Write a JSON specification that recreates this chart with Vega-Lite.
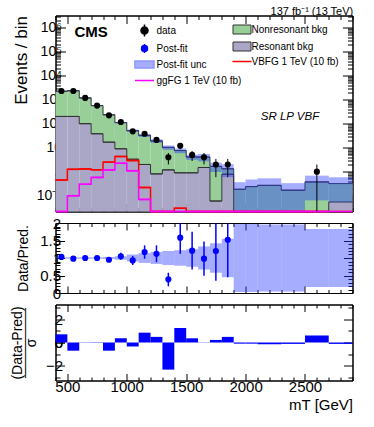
{
  "$schema": "https://vega.github.io/schema/vega-lite/v6.json",
  "background": "white",
  "padding": {"left": 9.5, "top": 5.5, "right": 18, "bottom": 6},
  "config": {
    "font": "Liberation Sans",
    "view": {"stroke": "black", "strokeWidth": 1},
    "axis": {"grid": false, "domainColor": "black", "tickColor": "black", "labelColor": "black", "titleColor": "black", "titleFontWeight": "normal", "labelFontSize": 15, "titleFontSize": 15, "labelOverlap": false, "labelFlush": false, "labelBound": false, "tickWidth": 1, "domainWidth": 1},
    "title": {"fontWeight": "normal", "color": "black"}
  },
  "datasets": {
    "bins": [
      {"lo":400,"hi":500,"m":450,"res":200,"tot":2243,"vbf":0.45,"ggf":0.005,"ulo":2198,"uhi":2288,"d":2300,"dlo":2252,"dhi":2348,"r":1.03,"rlo":1.01,"rhi":1.05,"rblo":0.98,"rbhi":1.02,"pull":0.7},
      {"lo":500,"hi":600,"m":550,"res":200,"tot":2357,"vbf":1.25,"ggf":0.1,"ulo":2310,"uhi":2404,"d":2300,"dlo":2252,"dhi":2348,"r":0.98,"rlo":0.96,"rhi":1.0,"rblo":0.98,"rbhi":1.02,"pull":-0.7},
      {"lo":600,"hi":700,"m":650,"res":100,"tot":1180,"vbf":1.3,"ggf":0.3,"ulo":1156,"uhi":1204,"d":1180,"dlo":1146,"dhi":1214,"r":1.0,"rlo":0.97,"rhi":1.03,"rblo":0.98,"rbhi":1.02,"pull":-0.02},
      {"lo":700,"hi":800,"m":750,"res":38,"tot":566,"vbf":1.2,"ggf":0.58,"ulo":555,"uhi":577,"d":566,"dlo":542,"dhi":590,"r":1.0,"rlo":0.96,"rhi":1.04,"rblo":0.98,"rbhi":1.02,"pull":0.03},
      {"lo":800,"hi":900,"m":850,"res":17,"tot":234,"vbf":2.5,"ggf":1.19,"ulo":229,"uhi":239,"d":222,"dlo":207,"dhi":237,"r":0.95,"rlo":0.89,"rhi":1.01,"rblo":0.97,"rbhi":1.03,"pull":-0.7},
      {"lo":900,"hi":1000,"m":950,"res":9,"tot":111,"vbf":4.3,"ggf":2.24,"ulo":105,"uhi":117,"d":117,"dlo":106,"dhi":128,"r":1.05,"rlo":0.95,"rhi":1.15,"rblo":0.95,"rbhi":1.05,"pull":0.36},
      {"lo":1000,"hi":1100,"m":1050,"res":3.3,"tot":51.2,"vbf":2.9,"ggf":1.1,"ulo":46.1,"uhi":56.3,"d":48,"dlo":41,"dhi":55,"r":0.93,"rlo":0.8,"rhi":1.06,"rblo":0.9,"rbhi":1.1,"pull":-0.34},
      {"lo":1100,"hi":1200,"m":1150,"res":2.0,"tot":32.5,"vbf":0.22,"ggf":0.07,"ulo":28.0,"uhi":37.1,"d":38,"dlo":32,"dhi":44,"r":1.17,"rlo":0.98,"rhi":1.36,"rblo":0.86,"rbhi":1.14,"pull":0.84},
      {"lo":1200,"hi":1300,"m":1250,"res":0.81,"tot":19.1,"vbf":0.005,"ggf":0.005,"ulo":15.9,"uhi":22.3,"d":21,"dlo":16.4,"dhi":25.6,"r":1.12,"rlo":0.88,"rhi":1.36,"rblo":0.83,"rbhi":1.17,"pull":0.48},
      {"lo":1300,"hi":1400,"m":1350,"res":1.19,"tot":10.3,"vbf":0.005,"ggf":0.005,"ulo":8.2,"uhi":12.4,"d":4,"dlo":2,"dhi":6,"r":0.39,"rlo":0.19,"rhi":0.58,"rblo":0.8,"rbhi":1.2,"pull":-2.32},
      {"lo":1400,"hi":1500,"m":1450,"res":0.9,"tot":7.6,"vbf":0.03,"ggf":0.005,"ulo":5.9,"uhi":9.3,"d":12,"dlo":8.5,"dhi":15.5,"r":1.58,"rlo":1.12,"rhi":2.04,"rblo":0.78,"rbhi":1.22,"pull":1.23},
      {"lo":1500,"hi":1600,"m":1550,"res":0.9,"tot":4.1,"vbf":0.005,"ggf":0.005,"ulo":3.1,"uhi":5.1,"d":5,"dlo":2.8,"dhi":7.2,"r":1.21,"rlo":0.67,"rhi":1.75,"rblo":0.75,"rbhi":1.25,"pull":0.36},
      {"lo":1600,"hi":1700,"m":1650,"res":1.5,"tot":4.1,"vbf":0.005,"ggf":0.005,"ulo":2.7,"uhi":5.5,"d":4,"dlo":2,"dhi":6,"r":0.98,"rlo":0.49,"rhi":1.47,"rblo":0.67,"rbhi":1.33,"pull":-0.02},
      {"lo":1700,"hi":1800,"m":1750,"res":0.06,"tot":1.67,"vbf":0.005,"ggf":0.005,"ulo":0.97,"uhi":2.37,"d":2,"dlo":0.59,"dhi":3.41,"r":1.2,"rlo":0.35,"rhi":2.05,"rblo":0.58,"rbhi":1.42,"pull":0.22},
      {"lo":1800,"hi":1900,"m":1850,"res":0.78,"tot":1.32,"vbf":0.005,"ggf":0.005,"ulo":0.59,"uhi":2.05,"d":2,"dlo":0.59,"dhi":3.41,"r":1.52,"rlo":0.45,"rhi":2.59,"rblo":0.45,"rbhi":1.55,"pull":0.48},
      {"lo":1900,"hi":2000,"m":1950,"res":0.005,"tot":0.185,"vbf":0.005,"ggf":0.005,"ulo":0.0056,"uhi":0.365,"d":null,"dlo":null,"dhi":null,"r":null,"rlo":null,"rhi":null,"rblo":0.03,"rbhi":1.97,"pull":-0.1},
      {"lo":2000,"hi":2100,"m":2050,"res":0.005,"tot":0.24,"vbf":0.005,"ggf":0.005,"ulo":0.0072,"uhi":0.473,"d":null,"dlo":null,"dhi":null,"r":null,"rlo":null,"rhi":null,"rblo":0.03,"rbhi":1.97,"pull":-0.1},
      {"lo":2100,"hi":2300,"m":2200,"res":0.005,"tot":0.27,"vbf":0.005,"ggf":0.005,"ulo":0.011,"uhi":0.53,"d":null,"dlo":null,"dhi":null,"r":null,"rlo":null,"rhi":null,"rblo":0.04,"rbhi":1.96,"pull":-0.15},
      {"lo":2300,"hi":2500,"m":2400,"res":0.005,"tot":0.17,"vbf":0.005,"ggf":0.005,"ulo":0.0068,"uhi":0.333,"d":null,"dlo":null,"dhi":null,"r":null,"rlo":null,"rhi":null,"rblo":0.04,"rbhi":1.96,"pull":-0.12},
      {"lo":2500,"hi":2700,"m":2600,"res":0.005,"tot":0.375,"vbf":0.005,"ggf":0.005,"ulo":0.064,"uhi":0.686,"d":1,"dlo":0.001,"dhi":2,"r":null,"rlo":null,"rhi":null,"rblo":0.17,"rbhi":1.83,"pull":0.6},
      {"lo":2700,"hi":2900,"m":2800,"res":0.055,"tot":0.32,"vbf":0.005,"ggf":0.005,"ulo":0.054,"uhi":0.586,"d":null,"dlo":null,"dhi":null,"r":null,"rlo":null,"rhi":null,"rblo":0.17,"rbhi":1.83,"pull":-0.12}
    ]
  },
  "spacing": 11.5,
  "bounds": "flush",
  "resolve": {"scale": {"color": "independent", "fill": "independent"}},
  "vconcat": [
    {
      "width": 297, "height": 196,
      "title": {"text": "137 fb⁻¹ (13 TeV)", "anchor": "end", "fontSize": 11, "offset": -2},
      "data": {"name": "bins"},
      "resolve": {"axis": {"x": "independent", "y": "independent"}},
      "layer": [
        {"layer": [
          {"mark": {"type": "rect"},
           "encoding": {
             "x": {"field": "lo", "type": "quantitative", "scale": {"domain": [400, 2900], "nice": false, "zero": false},
                   "axis": {"values": [500,1000,1500,2000,2500], "labels": false, "title": null, "tickSize": -8}},
             "x2": {"field": "hi"},
             "y": {"field": "res", "type": "quantitative", "scale": {"type": "log", "domain": [0.022, 3200000], "nice": false, "clamp": true},
                   "axis": {"values": [0.1,1,10,100,1000,10000,100000,1000000],
                            "labelExpr": "datum.value == 1000000 ? '10⁶' : datum.value == 100000 ? '10⁵' : datum.value == 10000 ? '10⁴' : datum.value == 1000 ? '10³' : datum.value == 100 ? '10²' : datum.value == 10 ? '10' : datum.value == 1 ? '1' : datum.value == 0.1 ? '10⁻¹' : ''",
                            "tickSize": -10, "labelOverlap": false,
                            "title": "Events / bin", "titleAnchor": "end", "titleFontSize": 17, "labelFontSize": 14, "labelPadding": 4, "minExtent": 24, "maxExtent": 24, "titlePadding": 1}},
             "y2": {"datum": 0.001},
             "fill": {"datum": "Resonant bkg", "type": "nominal",
                      "scale": {"domain": ["Nonresonant bkg", "Resonant bkg", "VBFG 1 TeV (10 fb)"], "range": ["#98cf98", "#aaa6c6", "#ff0000"]},
                      "legend": {"title": null, "orient": "none", "legendX": 181.5, "legendY": 9, "direction": "vertical", "symbolSize": 225, "labelFontSize": 10, "labelColor": "black", "labelOffset": 4.5, "rowPadding": 3, "padding": 0,
                                 "encode": {"symbols": {"update": {
                                   "shape": {"signal": "datum.value == 'VBFG 1 TeV (10 fb)' ? 'M-1.27,0H1.27' : 'M-1.2,-0.6H1.2V0.6H-1.2Z'"},
                                   "stroke": {"signal": "datum.value == 'VBFG 1 TeV (10 fb)' ? '#ff0000' : '#333333'"},
                                   "strokeWidth": {"signal": "datum.value == 'VBFG 1 TeV (10 fb)' ? 1.5 : 1"},
                                   "opacity": {"value": 1}
                                 }}}}}
           }},
          {"mark": {"type": "rect"},
           "encoding": {"x": {"field": "lo", "type": "quantitative"}, "x2": {"field": "hi"}, "y": {"field": "tot", "type": "quantitative"}, "y2": {"field": "res"},
                        "fill": {"datum": "Nonresonant bkg", "type": "nominal"}}},
          {"mark": {"type": "line", "interpolate": "step-after", "color": "#333333", "strokeWidth": 1},
           "encoding": {"x": {"field": "lo", "type": "quantitative"}, "y": {"field": "res", "type": "quantitative"}}},
          {"mark": {"type": "rule", "color": "#333333", "strokeWidth": 1},
           "encoding": {"x": {"field": "lo", "type": "quantitative"}, "x2": {"field": "hi"}, "y": {"field": "res", "type": "quantitative"}}},
          {"mark": {"type": "line", "interpolate": "step-after", "color": "#333333", "strokeWidth": 1},
           "encoding": {"x": {"field": "lo", "type": "quantitative"}, "y": {"field": "tot", "type": "quantitative"}}},
          {"mark": {"type": "rule", "color": "#333333", "strokeWidth": 1},
           "encoding": {"x": {"field": "lo", "type": "quantitative"}, "x2": {"field": "hi"}, "y": {"field": "tot", "type": "quantitative"}}},
          {"mark": {"type": "rect", "fill": "#2b3cff", "opacity": 0.42},
           "encoding": {"x": {"field": "lo", "type": "quantitative"}, "x2": {"field": "hi"}, "y": {"field": "ulo", "type": "quantitative"}, "y2": {"field": "uhi"}}},
          {"mark": {"type": "line", "interpolate": "step-after", "color": "#ff0000", "strokeWidth": 1.5},
           "encoding": {"x": {"field": "lo", "type": "quantitative"}, "y": {"field": "vbf", "type": "quantitative"}}},
          {"mark": {"type": "rule", "color": "#ff0000", "strokeWidth": 1.5},
           "encoding": {"x": {"field": "lo", "type": "quantitative"}, "x2": {"field": "hi"}, "y": {"field": "vbf", "type": "quantitative"}}},
          {"mark": {"type": "line", "interpolate": "step-after", "color": "#ff00ff", "strokeWidth": 1.5},
           "encoding": {"x": {"field": "lo", "type": "quantitative"}, "y": {"field": "ggf", "type": "quantitative"}}},
          {"mark": {"type": "rule", "color": "#ff00ff", "strokeWidth": 1.5},
           "encoding": {"x": {"field": "lo", "type": "quantitative"}, "x2": {"field": "hi"}, "y": {"field": "ggf", "type": "quantitative"}}},
          {"mark": {"type": "rule", "strokeWidth": 1},
           "encoding": {"x": {"field": "m", "type": "quantitative"}, "y": {"field": "dlo", "type": "quantitative"}, "y2": {"field": "dhi"},
                        "color": {"datum": "data", "type": "nominal",
                                  "scale": {"domain": ["data", "Post-fit", "Post-fit unc", "ggFG 1 TeV (10 fb)"], "range": ["#000000", "#0000ff", "#8f98ff", "#ff00ff"]},
                                  "legend": {"title": null, "orient": "none", "legendX": 80.5, "legendY": 6.5, "direction": "vertical", "symbolSize": 225, "labelFontSize": 10, "labelColor": "black", "labelOffset": 3.5, "rowPadding": -1, "padding": 0,
                                             "encode": {"symbols": {"update": {
                                               "shape": {"signal": "datum.value == 'data' ? 'M0,-0.8V0.8M-0.47,0A0.47,0.47,0,1,0,0.47,0A0.47,0.47,0,1,0,-0.47,0Z' : datum.value == 'Post-fit' ? 'M0,-0.6V0.6M-0.4,0A0.4,0.4,0,1,0,0.4,0A0.4,0.4,0,1,0,-0.4,0Z' : datum.value == 'Post-fit unc' ? 'M-1.27,-0.47H1.27V0.47H-1.27Z' : 'M-1.27,0H1.27'"},
                                               "fill": {"signal": "datum.value == 'data' ? '#000000' : datum.value == 'Post-fit' ? '#0000ff' : datum.value == 'Post-fit unc' ? 'rgba(43,60,255,0.42)' : 'transparent'"},
                                               "strokeWidth": {"value": 1.5},
                                               "opacity": {"value": 1}
                                             }}}}}}},
          {"mark": {"type": "circle", "size": 38, "opacity": 1, "color": "black"},
           "encoding": {"x": {"field": "m", "type": "quantitative"}, "y": {"field": "d", "type": "quantitative"}}},
          {"data": {"values": [{}]},
           "mark": {"type": "text", "text": "CMS", "fontWeight": "bold", "fontSize": 15, "align": "left", "baseline": "alphabetic", "color": "black"},
           "encoding": {"x": {"datum": 560, "type": "quantitative"}, "y": {"datum": 420000, "type": "quantitative"}}},
          {"data": {"values": [{}]},
           "mark": {"type": "text", "text": "SR LP VBF", "fontStyle": "italic", "fontSize": 11.5, "align": "left", "baseline": "alphabetic", "color": "black"},
           "encoding": {"x": {"datum": 2128, "type": "quantitative"}, "y": {"datum": 147, "type": "quantitative"}}}
        ]},
        {"mark": {"type": "point", "opacity": 0},
         "encoding": {
           "x": {"field": "m", "type": "quantitative", "axis": {"orient": "top", "values": [500,1000,1500,2000,2500], "labels": false, "title": null, "tickSize": -8}},
           "y": {"field": "tot", "type": "quantitative", "axis": {"orient": "right", "values": [0.1,1,10,100,1000,10000,100000,1000000], "labels": false, "title": null, "tickSize": -10}}
         }},
        {"mark": {"type": "point", "opacity": 0},
         "encoding": {
           "x": {"field": "m", "type": "quantitative", "axis": {"orient": "bottom", "values": [400,600,700,800,900,1100,1200,1300,1400,1600,1700,1800,1900,2100,2200,2300,2400,2600,2700,2800,2900], "labels": false, "title": null, "tickSize": -4, "domain": false}},
           "y": {"field": "tot", "type": "quantitative", "axis": {"orient": "left", "values": [0.03,0.04,0.05,0.06,0.07,0.08,0.09,0.2,0.3,0.4,0.5,0.6,0.7,0.8,0.9,2,3,4,5,6,7,8,9,20,30,40,50,60,70,80,90,200,300,400,500,600,700,800,900,2000,3000,4000,5000,6000,7000,8000,9000,20000,30000,40000,50000,60000,70000,80000,90000,200000,300000,400000,500000,600000,700000,800000,900000,2000000,3000000], "labels": false, "title": null, "tickSize": -5, "domain": false}}
         }},
        {"mark": {"type": "point", "opacity": 0},
         "encoding": {
           "x": {"field": "m", "type": "quantitative", "axis": {"orient": "top", "values": [400,600,700,800,900,1100,1200,1300,1400,1600,1700,1800,1900,2100,2200,2300,2400,2600,2700,2800,2900], "labels": false, "title": null, "tickSize": -4, "domain": false}},
           "y": {"field": "tot", "type": "quantitative", "axis": {"orient": "right", "values": [0.03,0.04,0.05,0.06,0.07,0.08,0.09,0.2,0.3,0.4,0.5,0.6,0.7,0.8,0.9,2,3,4,5,6,7,8,9,20,30,40,50,60,70,80,90,200,300,400,500,600,700,800,900,2000,3000,4000,5000,6000,7000,8000,9000,20000,30000,40000,50000,60000,70000,80000,90000,200000,300000,400000,500000,600000,700000,800000,900000,2000000,3000000], "labels": false, "title": null, "tickSize": -5, "domain": false}}
         }}
      ]
    },
    {
      "width": 297, "height": 70,
      "data": {"name": "bins"},
      "resolve": {"axis": {"x": "independent", "y": "independent"}},
      "layer": [
        {"layer": [
          {"mark": {"type": "rect", "fill": "#2b3cff", "opacity": 0.42},
           "encoding": {
             "x": {"field": "lo", "type": "quantitative", "scale": {"domain": [400, 2900], "nice": false, "zero": false},
                   "axis": {"values": [500,1000,1500,2000,2500], "labels": false, "title": null, "tickSize": -7}},
             "x2": {"field": "hi"},
             "y": {"field": "rblo", "type": "quantitative", "scale": {"domain": [0, 2], "nice": false, "zero": false, "clamp": true},
                   "axis": {"values": [0,0.5,1,1.5,2], "labelExpr": "datum.value == 0.5 ? '0.5' : datum.value == 1.5 ? '1.5' : datum.value == 1 ? '1' : datum.value == 2 ? '2' : '0'", "tickSize": -9, "labelOverlap": false, "labelSeparation": 0,
                            "title": "Data/Pred.", "titleFontSize": 14, "labelFontSize": 15, "labelPadding": 4, "minExtent": 22, "maxExtent": 22, "titlePadding": 3.4}},
             "y2": {"field": "rbhi"}
           }},
          {"mark": {"type": "rule", "color": "#0000ff", "strokeWidth": 1.5},
           "encoding": {"x": {"field": "m", "type": "quantitative"}, "y": {"field": "rlo", "type": "quantitative"}, "y2": {"field": "rhi"}}},
          {"mark": {"type": "circle", "size": 38, "color": "#0000ff", "opacity": 1},
           "encoding": {"x": {"field": "m", "type": "quantitative"}, "y": {"field": "r", "type": "quantitative"}}}
        ]},
        {"mark": {"type": "point", "opacity": 0},
         "encoding": {
           "x": {"field": "m", "type": "quantitative", "axis": {"orient": "top", "values": [500,1000,1500,2000,2500], "labels": false, "title": null, "tickSize": -7}},
           "y": {"field": "r", "type": "quantitative", "axis": {"orient": "right", "values": [0,0.5,1,1.5,2], "labels": false, "title": null, "tickSize": -9}}
         }},
        {"mark": {"type": "point", "opacity": 0},
         "encoding": {
           "x": {"field": "m", "type": "quantitative", "axis": {"orient": "bottom", "values": [400,600,700,800,900,1100,1200,1300,1400,1600,1700,1800,1900,2100,2200,2300,2400,2600,2700,2800,2900], "labels": false, "title": null, "tickSize": -3.5, "domain": false}},
           "y": {"field": "r", "type": "quantitative", "axis": {"orient": "left", "values": [0.1,0.2,0.3,0.4,0.6,0.7,0.8,0.9,1.1,1.2,1.3,1.4,1.6,1.7,1.8,1.9], "labels": false, "title": null, "tickSize": -4.5, "domain": false}}
         }},
        {"mark": {"type": "point", "opacity": 0},
         "encoding": {
           "x": {"field": "m", "type": "quantitative", "axis": {"orient": "top", "values": [400,600,700,800,900,1100,1200,1300,1400,1600,1700,1800,1900,2100,2200,2300,2400,2600,2700,2800,2900], "labels": false, "title": null, "tickSize": -3.5, "domain": false}},
           "y": {"field": "r", "type": "quantitative", "axis": {"orient": "right", "values": [0.1,0.2,0.3,0.4,0.6,0.7,0.8,0.9,1.1,1.2,1.3,1.4,1.6,1.7,1.8,1.9], "labels": false, "title": null, "tickSize": -4.5, "domain": false}}
         }},
        {"mark": {"type": "point", "opacity": 0},
         "encoding": {"y": {"field": "r", "type": "quantitative", "axis": {"orient": "left", "values": [0.5], "labelExpr": "'0.5'", "title": null, "tickSize": -9, "labelPadding": 4, "labelFontSize": 15, "domain": false, "labelOverlap": false}}}},
        {"mark": {"type": "point", "opacity": 0},
         "encoding": {"y": {"field": "r", "type": "quantitative", "axis": {"orient": "left", "values": [1], "labelExpr": "'1'", "title": null, "tickSize": -9, "labelPadding": 4, "labelFontSize": 15, "domain": false, "labelOverlap": false}}}},
        {"mark": {"type": "point", "opacity": 0},
         "encoding": {"y": {"field": "r", "type": "quantitative", "axis": {"orient": "left", "values": [1.5], "labelExpr": "'1.5'", "title": null, "tickSize": -9, "labelPadding": 4, "labelFontSize": 15, "domain": false, "labelOverlap": false}}}}
      ]
    },
    {
      "width": 297, "height": 76,
      "data": {"name": "bins"},
      "resolve": {"axis": {"x": "independent", "y": "independent"}},
      "layer": [
        {"mark": {"type": "rect", "fill": "#0000ff"},
         "encoding": {
           "x": {"field": "lo", "type": "quantitative", "scale": {"domain": [400, 2900], "nice": false, "zero": false},
                 "axis": {"values": [500,1000,1500,2000,2500], "labelExpr": "'' + datum.value", "tickSize": -7, "labelOverlap": false,
                          "title": "mT [GeV]", "titleAnchor": "end", "titleFontSize": 15, "labelFontSize": 15, "labelPadding": 6, "titlePadding": 3}},
           "x2": {"field": "hi"},
           "y": {"field": "pull", "type": "quantitative", "scale": {"domain": [-3.25, 3.25], "nice": false, "zero": false},
                 "axis": {"values": [-2,0,2],
                          "labelExpr": "datum.value == -2 ? '−2' : datum.value == 2 ? '2' : '0'",
                          "tickSize": -9, "labelOverlap": false, "labelSeparation": 0,
                          "title": null, "labelFontSize": 15, "labelPadding": 2, "minExtent": 16, "maxExtent": 16}},
           "y2": {"datum": 0}
         }},
        {"mark": {"type": "point", "opacity": 0},
         "encoding": {
           "x": {"field": "m", "type": "quantitative", "axis": {"orient": "top", "values": [500,1000,1500,2000,2500], "labels": false, "title": null, "tickSize": -7}},
           "y": {"field": "pull", "type": "quantitative", "axis": {"orient": "right", "values": [-2,0,2], "labels": false, "title": null, "tickSize": -9}}
         }},
        {"mark": {"type": "point", "opacity": 0},
         "encoding": {
           "x": {"field": "m", "type": "quantitative", "axis": {"orient": "bottom", "values": [400,600,700,800,900,1100,1200,1300,1400,1600,1700,1800,1900,2100,2200,2300,2400,2600,2700,2800,2900], "labels": false, "title": null, "tickSize": -3.5, "domain": false}},
           "y": {"field": "pull", "type": "quantitative", "axis": {"orient": "left", "values": [-3,-1,1,3], "labels": false, "title": null, "tickSize": -4.5, "domain": false}}
         }},
        {"mark": {"type": "point", "opacity": 0},
         "encoding": {
           "x": {"field": "m", "type": "quantitative", "axis": {"orient": "top", "values": [400,600,700,800,900,1100,1200,1300,1400,1600,1700,1800,1900,2100,2200,2300,2400,2600,2700,2800,2900], "labels": false, "title": null, "tickSize": -3.5, "domain": false}},
           "y": {"field": "pull", "type": "quantitative", "axis": {"orient": "right", "values": [-3,-1,1,3], "labels": false, "title": null, "tickSize": -4.5, "domain": false}}
         }},
        {"mark": {"type": "point", "opacity": 0},
         "encoding": {"y": {"field": "pull", "type": "quantitative", "axis": {"orient": "left", "values": [0], "labelExpr": "'0'", "title": null, "tickSize": -9, "labelPadding": 2, "labelFontSize": 15, "domain": false, "labelOverlap": false}}}},
        {"mark": {"type": "point", "opacity": 0},
         "encoding": {"y": {"field": "pull", "type": "quantitative", "axis": {"orient": "left", "values": [0], "labels": false, "ticks": false, "domain": false,
                                                                            "title": ["(Data-Pred)", "—————", "σ"], "titleFontSize": 14, "titleLineHeight": 7, "minExtent": 16, "maxExtent": 16, "titlePadding": 1}}}}
      ]
    }
  ]
}
